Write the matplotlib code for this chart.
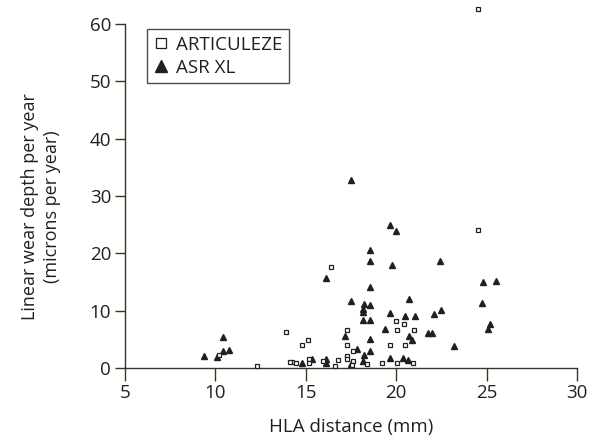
import matplotlib
matplotlib.use("Agg")
import matplotlib.pyplot as plt
from matplotlib.lines import Line2D

# ---------------------------------
# Data
# ---------------------------------
art_x = [24.5, 24.5, 16.4, 19.97, 20.45, 17.3, 20.03, 20.97, 13.88, 15.14,
         14.8, 17.28, 19.64, 20.5, 17.63, 17.28, 17.28, 16.78, 20.93, 20.05,
         19.22, 18.41, 17.6, 17.56, 16.6, 15.96, 15.17, 15.17, 14.26, 14.45,
         12.31, 14.1, 10.2]
art_y = [62.7, 24.1, 17.6, 8.1, 7.7, 6.6, 6.6, 6.6, 6.2, 4.8,
         3.9, 3.9, 3.9, 3.9, 3.0, 2.1, 1.6, 1.3, 0.9, 0.9,
         0.9, 0.75, 1.2, 0.5, 0.35, 1.2, 1.5, 0.8, 1.1, 0.8,
         0.4, 1.0, 2.2]

asr_x = [17.49, 19.67, 19.98, 18.54, 18.57, 19.75, 22.44, 16.1, 18.54, 24.8,
         25.5, 24.72, 22.5, 25.17, 25.1, 23.2, 17.5, 18.2, 18.55, 18.19,
         18.19, 20.72, 19.66, 20.5, 21.04, 22.07, 18.19, 18.55, 19.38, 17.17,
         20.72, 20.9, 21.74, 21.98, 18.55, 17.82, 18.55, 18.2, 19.64, 20.38,
         20.67, 18.17, 17.49, 16.1, 16.1, 15.35, 14.78, 9.36, 10.1, 10.43,
         10.76, 10.43]
asr_y = [32.8, 24.9, 23.96, 20.5, 18.7, 18.0, 18.7, 15.6, 14.1, 14.9,
         15.1, 11.3, 10.1, 7.6, 6.75, 3.8, 11.7, 11.1, 10.9, 10.2,
         9.8, 12.0, 9.65, 9.1, 9.1, 9.4, 8.4, 8.3, 6.7, 5.5,
         5.6, 4.9, 6.05, 6.05, 5.1, 3.25, 3.0, 2.3, 1.7, 1.7,
         1.4, 1.2, 0.75, 1.6, 0.9, 1.5, 0.8, 2.1, 1.9, 2.85,
         3.1, 5.4]

x_ticks = [5, 10, 15, 20, 25, 30]
y_ticks = [0, 10, 20, 30, 40, 50, 60]

# ---------------------------------
# Style
# ---------------------------------
plt.rcParams["font.family"] = ["Open Sans", "DejaVu Sans"]
text_col = "#231f20"
axis_col = "#3d3322"

fig = plt.figure(figsize=(6.01, 4.48), dpi=100)
ax = fig.add_axes([0.208, 0.179, 0.752, 0.767])

ax.plot(asr_x, asr_y, linestyle="none", marker="^", markersize=4.8,
        color=text_col, clip_on=False, zorder=3)
ax.plot(art_x, art_y, linestyle="none", marker="s", markersize=3.5,
        markerfacecolor="white", markeredgecolor=text_col,
        markeredgewidth=0.9, clip_on=False, zorder=4)

ax.set_xlim(5, 30)
ax.set_ylim(0, 60)
ax.set_xticks(x_ticks)
ax.set_yticks(y_ticks)

for side in ["top", "right"]:
    ax.spines[side].set_visible(False)
for side in ["left", "bottom"]:
    ax.spines[side].set_color(axis_col)
    ax.spines[side].set_linewidth(1.0)

ax.tick_params(axis="x", length=9, width=1.0, color=axis_col,
               labelsize=13.5, labelcolor=text_col, pad=3)
ax.tick_params(axis="y", length=7, width=1.0, color=axis_col,
               labelsize=13.5, labelcolor=text_col, pad=3)

ax.set_xlabel("HLA distance (mm)", fontsize=13.5, color=text_col, labelpad=11)
ax.set_ylabel("Linear wear depth per year\n(microns per year)",
              fontsize=13, color=text_col, linespacing=1.25)
ax.yaxis.set_label_coords(-0.142, 0.47)

# ---------------------------------
# Legend
# ---------------------------------
handles = [
    Line2D([], [], linestyle="none", marker="s", markersize=7,
           markerfacecolor="white", markeredgecolor=text_col,
           markeredgewidth=0.9, label="ARTICULEZE"),
    Line2D([], [], linestyle="none", marker="^", markersize=8,
           color=text_col, label="ASR XL"),
]
leg = ax.legend(handles=handles, loc="upper left",
                bbox_to_anchor=(0.048, 0.985), fontsize=13.5,
                frameon=True, fancybox=False, handlelength=0.8,
                handletextpad=0.4, borderpad=0.35, labelspacing=0.25,
                borderaxespad=0)
leg.get_frame().set_edgecolor(text_col)
leg.get_frame().set_linewidth(1.0)
for t in leg.get_texts():
    t.set_color(text_col)

fig.savefig("out.png", dpi=100)
